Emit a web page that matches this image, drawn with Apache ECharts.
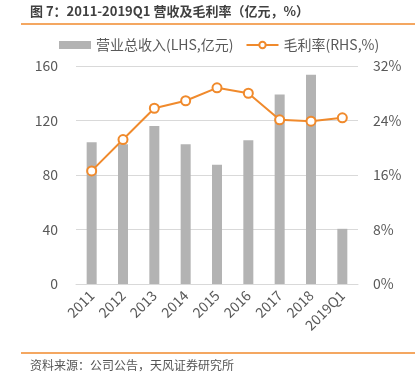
<!DOCTYPE html>
<html><head><meta charset="utf-8">
<script src="https://cdn.jsdelivr.net/npm/echarts@6/dist/echarts.min.js"></script>
<style>html,body{margin:0;padding:0;background:#fff}#c{width:417px;height:380px}</style>
</head><body><div id="c"></div>
<script>
var categories = ['2011','2012','2013','2014','2015','2016','2017','2018','2019Q1'];
var revenue = [104, 102.5, 116, 102.5, 87.5, 105.5, 139, 153.5, 40.5];
var grossMargin = [16.6, 21.2, 25.8, 26.9, 28.8, 28.0, 24.1, 23.9, 24.4];
var leftTicks = [0, 40, 80, 120, 160];
var rightTicks = [0, 8, 16, 24, 32];
var FONT = '"Microsoft YaHei","Noto Sans CJK SC",sans-serif';
var chart = echarts.init(document.getElementById('c'));
chart.setOption({
  animation: false,
  textStyle: {fontFamily: FONT},
  graphic: [
    {type:'text', left: 30, top: 5, style:{text:'图 7：2011-2019Q1 营收及毛利率（亿元，%）', fill:'#404040', font:'bold 13px ' + FONT}},
    {type:'line', shape:{x1:21,y1:24,x2:415,y2:24}, style:{stroke:'#F08A2C', lineWidth:1.5}},
    {type:'line', shape:{x1:21,y1:353,x2:415,y2:353}, style:{stroke:'#F08A2C', lineWidth:1.5}},
    {type:'text', left: 30, top: 359, style:{text:'资料来源：公司公告，天风证券研究所', fill:'#555', font:'12px ' + FONT}}
  ],
  legend: {
    top: 33, left: 54, itemGap: 12, itemWidth: 32, itemHeight: 8,
    textStyle: {fontSize: 14, color: '#595959', fontFamily: FONT},
    data: [
      {name:'营业总收入(LHS,亿元)', icon:'rect'},
      {name:'毛利率(RHS,%)'}
    ]
  },
  grid: {left: 76, right: 59, top: 66, bottom: 96},
  xAxis: {
    type: 'category', data: categories,
    axisLine: {show: true, lineStyle: {color: '#d9d9d9', width: 1}},
    axisTick: {show: false},
    axisLabel: {rotate: 45, color: '#595959', fontSize: 14, margin: 9, interval: 0}
  },
  yAxis: [
    {type:'value', min:0, max:160, interval:40,
     axisLine:{show:false}, axisTick:{show:false},
     axisLabel:{color:'#595959', fontSize:14, margin:18},
     splitLine:{lineStyle:{color:'#d9d9d9', width:1}}},
    {type:'value', min:0, max:32, interval:8,
     axisLine:{show:false}, axisTick:{show:false},
     axisLabel:{color:'#595959', fontSize:14, margin:15, formatter:'{value}%'},
     splitLine:{show:false}}
  ],
  series: [
    {name:'营业总收入(LHS,亿元)', type:'bar', data: revenue, barWidth: 10,
     itemStyle:{color:'#b3b3b3'}},
    {name:'毛利率(RHS,%)', type:'line', yAxisIndex:1, data: grossMargin,
     symbol:'circle', symbolSize: 9,
     lineStyle:{color:'#F08A2C', width:2},
     itemStyle:{color:'#fff', borderColor:'#F08A2C', borderWidth:2}}
  ]
});
</script></body></html>
